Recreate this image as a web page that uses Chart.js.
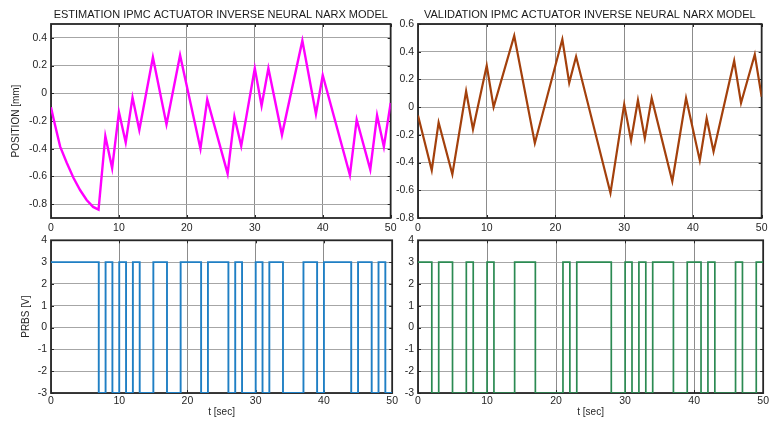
<!DOCTYPE html>
<html>
<head>
<meta charset="utf-8">
<script src="https://cdn.jsdelivr.net/npm/chart.js@4.4.1/dist/chart.umd.min.js"></script>
<style>
body { margin: 0; background: #fff; }
#wrap { position: relative; width: 771px; height: 421px; overflow: hidden; background: #fff; }
#wrap canvas { position: absolute; }
</style>
</head>
<body>
<div id="wrap">
<canvas id="estPos" width="400" height="236" style="left:0px;top:0px"></canvas>
<canvas id="valPos" width="381" height="236" style="left:390px;top:0px"></canvas>
<canvas id="estPrbs" width="400" height="191" style="left:0px;top:230px"></canvas>
<canvas id="valPrbs" width="381" height="191" style="left:390px;top:230px"></canvas>
</div>
<script>
// estimation data (left column)
const estTime = [0, 0.4, 1.35, 2.3, 3.3, 4.3, 5.25, 6.2, 7, 8, 9, 10, 11, 12, 13, 15, 17, 19, 22, 23, 26, 27, 28, 30, 31, 32, 34, 37, 39, 40, 44, 45, 47, 48, 49, 50];
const estPos = [-0.10, -0.19, -0.385, -0.50, -0.61, -0.70, -0.77, -0.82, -0.84, -0.31, -0.54, -0.135, -0.355, -0.03, -0.265, 0.26, -0.225, 0.275, -0.40, -0.045, -0.58, -0.17, -0.38, 0.18, -0.09, 0.18, -0.30, 0.38, -0.15, 0.13, -0.59, -0.19, -0.55, -0.16, -0.385, -0.07];
const estPrbsTime = [0, 7, 8, 9, 10, 11, 12, 13, 15, 17, 19, 22, 23, 26, 27, 28, 30, 31, 32, 34, 37, 39, 40, 44, 45, 47, 48, 49, 50];
const estPrbs = [3, -3, 3, -3, 3, -3, 3, -3, 3, -3, 3, -3, 3, -3, 3, -3, 3, -3, 3, -3, 3, -3, 3, -3, 3, -3, 3, -3, -3];

// validation data (right column)
const valTime = [0, 2, 3, 5, 7, 8, 10, 11, 14, 17, 21, 22, 23, 28, 30, 31, 32, 33, 34, 37, 39, 41, 42, 43, 46, 47, 49, 50];
const valPos = [-0.06, -0.455, -0.11, -0.485, 0.115, -0.16, 0.30, 0.0, 0.515, -0.26, 0.49, 0.175, 0.365, -0.62, 0.02, -0.24, 0.05, -0.225, 0.065, -0.535, 0.065, -0.385, -0.08, -0.32, 0.335, 0.03, 0.38, 0.075];
const valPrbsTime = [0, 2, 3, 5, 7, 8, 10, 11, 14, 17, 21, 22, 23, 28, 30, 31, 32, 33, 34, 37, 39, 41, 42, 43, 46, 47, 49, 50];
const valPrbs = [3, -3, 3, -3, 3, -3, 3, -3, 3, -3, 3, -3, 3, -3, 3, -3, 3, -3, 3, -3, 3, -3, 3, -3, 3, -3, 3, 3];

// tick labels
const timeTicks = [0, 10, 20, 30, 40, 50];
const posTicksEst = [-0.8, -0.6, -0.4, -0.2, 0, 0.2, 0.4];
const posTicksVal = [-0.8, -0.6, -0.4, -0.2, 0, 0.2, 0.4, 0.6];
const prbsTicks = [-3, -2, -1, 0, 1, 2, 3, 4];

Chart.defaults.font.family = "'Liberation Sans', Arial, sans-serif";
Chart.defaults.font.size = 10.5;
Chart.defaults.color = "#262626";

// black box + small inward tick marks, like the matlab axes
const cadre = {
    id: "cadre",
    beforeDatasetsDraw(chart) {
        let ctx = chart.ctx;
        let a = chart.chartArea;
        let xs = chart.scales.x;
        let ys = chart.scales.y;
        ctx.save();
        ctx.strokeStyle = "#262626";
        ctx.lineWidth = 1;
        ctx.beginPath();
        xs.ticks.forEach(function(t){
            let px = Math.round(xs.getPixelForValue(t.value)) + 0.5;
            ctx.moveTo(px, a.top); ctx.lineTo(px, a.top + 3);
            ctx.moveTo(px, a.bottom); ctx.lineTo(px, a.bottom - 3);
        });
        ys.ticks.forEach(function(t){
            let py = Math.round(ys.getPixelForValue(t.value)) + 0.5;
            ctx.moveTo(a.left, py); ctx.lineTo(a.left + 3, py);
            ctx.moveTo(a.right, py); ctx.lineTo(a.right - 3, py);
        });
        ctx.stroke();
        ctx.lineWidth = 1.8;
        ctx.strokeRect(a.left, a.top, a.right - a.left, a.bottom - a.top);
        ctx.restore();
    }
};

function creerChart(id, temps, valeurs, couleur, largeur, yMin, yMax, yTicks, o){
    let points = temps.map(function(t, i){ return {x: t, y: valeurs[i]}; });
    return new Chart(document.getElementById(id), {
        type: "line",
        data: {
            datasets: [{
                data: points,
                borderColor: couleur,
                borderWidth: largeur,
                pointRadius: 0,
                tension: 0,
                fill: false,
                stepped: o.stepped || false,
            }],
        },
        plugins: [cadre],
        options: {
            responsive: false,
            animation: false,
            events: [],
            layout: { padding: o.padding },
            plugins: {
                legend: { display: false },
                tooltip: { enabled: false },
                title: {
                    display: !!o.titre,
                    text: o.titre || "",
                    fullSize: false,
                    color: "#1a1a1a",
                    font: { size: 11, weight: "normal" },
                    padding: { top: 8.6, bottom: 2.2 },
                },
            },
            scales: {
                x: {
                    type: "linear",
                    min: 0,
                    max: 50,
                    afterBuildTicks: function(s){ s.ticks = timeTicks.map(function(v){ return {value: v}; }); },
                    afterFit: function(s){ s.height = o.xHeight; },
                    grid: { color: "#8c8c8c", lineWidth: 1, drawTicks: false },
                    border: { display: false },
                    ticks: { padding: o.xPad, maxRotation: 0, autoSkip: false, callback: function(v){ return String(v); } },
                    title: { display: !!o.xTitre, text: o.xTitre || "", font: { size: 10 }, padding: { top: 0, bottom: 2.5 } },
                },
                y: {
                    type: "linear",
                    min: yMin,
                    max: yMax,
                    afterBuildTicks: function(s){ s.ticks = yTicks.map(function(v){ return {value: v}; }); },
                    afterFit: function(s){ s.width = o.yWidth; },
                    grid: { color: "#a6a6a6", lineWidth: 1, drawTicks: false },
                    border: { display: false },
                    ticks: { padding: 4, autoSkip: false, callback: function(v){ return String(Math.round(v * 10) / 10); } },
                    title: { display: !!o.yTitre, text: o.yTitre || "", font: { size: 10 }, padding: { top: o.yTitrePad || 0, bottom: 0 } },
                },
            },
        },
    });
}

creerChart("estPos", estTime, estPos, "#ff00ff", 2.4, -0.9, 0.5, posTicksEst, {
    titre: "ESTIMATION IPMC ACTUATOR INVERSE NEURAL NARX MODEL",
    yTitre: "POSITION [mm]", yTitrePad: 10,
    padding: { left: 0, right: 6, top: 0, bottom: 0 },
    yWidth: 51, xHeight: 18, xPad: 3.5,
});
creerChart("valPos", valTime, valPos, "#a3400c", 2.2, -0.8, 0.6, posTicksVal, {
    titre: "VALIDATION IPMC ACTUATOR INVERSE NEURAL NARX MODEL",
    padding: { left: 0, right: 4, top: 0, bottom: 0 },
    yWidth: 28, xHeight: 18, xPad: 3.5,
});
creerChart("estPrbs", estPrbsTime, estPrbs, "#1f7fc4", 1.9, -3, 4, prbsTicks, {
    stepped: true,
    yTitre: "PRBS [V]", yTitrePad: 20,
    xTitre: "t [sec]",
    padding: { left: 0, right: 6, top: 7, bottom: 0 },
    yWidth: 51, xHeight: 28, xPad: 2,
});
creerChart("valPrbs", valPrbsTime, valPrbs, "#2b8a52", 1.7, -3, 4, prbsTicks, {
    stepped: true,
    xTitre: "t [sec]",
    padding: { left: 0, right: 4, top: 7, bottom: 0 },
    yWidth: 28, xHeight: 28, xPad: 2,
});
</script>
</body>
</html>
